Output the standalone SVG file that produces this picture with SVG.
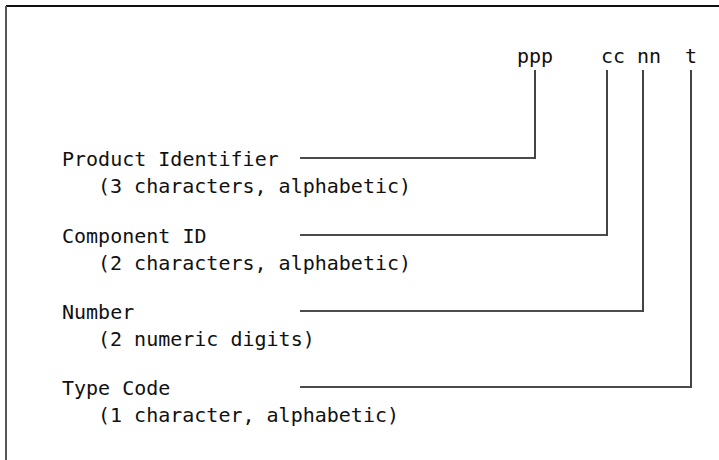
<svg xmlns="http://www.w3.org/2000/svg" width="719" height="460" viewBox="0 0 719 460">
<style>
text{font-family:"DejaVu Sans Mono","Liberation Mono",monospace;font-size:20px;fill:#111}
.h{stroke:#111;stroke-width:1.6;fill:none}
.v{stroke:#444;stroke-width:2;fill:none}
</style>
<rect width="719" height="460" fill="#fff"/>
<g id="frame">
<line x1="6" y1="6" x2="719" y2="6" stroke="#111" stroke-width="2"/>
<line x1="6" y1="6" x2="6" y2="460" stroke="#555" stroke-width="2"/>
</g>
<g id="code">
<text x="517" y="63">ppp</text>
<text x="601" y="63">cc</text>
<text x="637" y="63">nn</text>
<text x="685" y="63">t</text>
</g>
<g id="product">
<text x="62" y="166">Product Identifier</text>
<text x="98" y="193">(3 characters, alphabetic)</text>
</g>
<g id="component">
<text x="62" y="243">Component ID</text>
<text x="98" y="270">(2 characters, alphabetic)</text>
</g>
<g id="number">
<text x="62" y="319">Number</text>
<text x="98" y="346">(2 numeric digits)</text>
</g>
<g id="type">
<text x="62" y="395">Type Code</text>
<text x="98" y="422">(1 character, alphabetic)</text>
</g>
<g id="connectors">
<line class="h" x1="300" y1="158" x2="536" y2="158"/>
<line class="v" x1="535" y1="70" x2="535" y2="159"/>
<line class="h" x1="300" y1="235" x2="608" y2="235"/>
<line class="v" x1="607" y1="70" x2="607" y2="236"/>
<line class="h" x1="300" y1="311" x2="644" y2="311"/>
<line class="v" x1="643" y1="70" x2="643" y2="312"/>
<line class="h" x1="300" y1="387" x2="692" y2="387"/>
<line class="v" x1="691" y1="70" x2="691" y2="388"/>
</g>
</svg>
